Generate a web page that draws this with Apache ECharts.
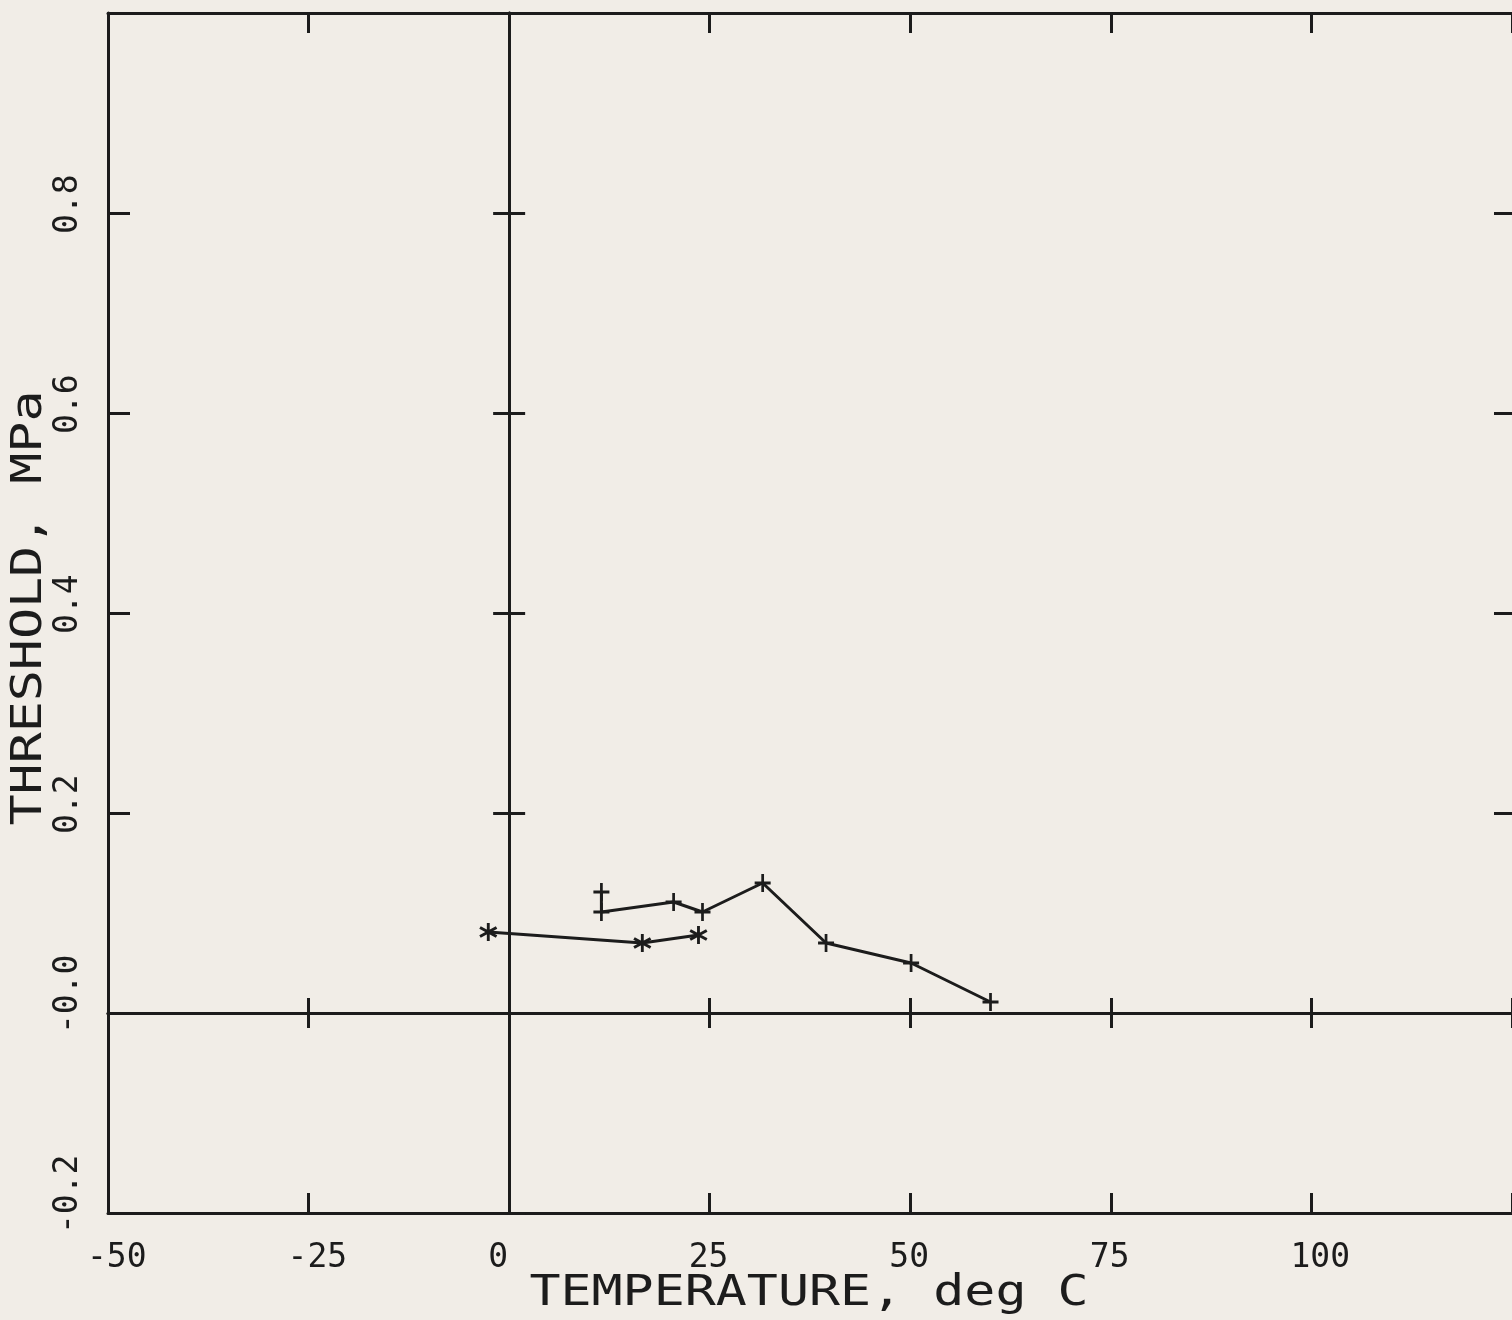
<!DOCTYPE html>
<html>
<head>
<meta charset="utf-8">
<script src="https://cdn.jsdelivr.net/npm/echarts@6/dist/echarts.min.js"></script>
<style>
html, body { margin: 0; padding: 0; background: #f1ede7; }
#chart { width: 1512px; height: 1320px; }
</style>
</head>
<body>
<div id="chart"></div>
<script>
// Temperature axis, deg C
const xMin = -50, xMax = 125, xStep = 25;
const xTickLabels = ['-50', '-25', '0', '25', '50', '75', '100', ''];

// Threshold axis, MPa
const yMin = -0.2, yMax = 1.0, yStep = 0.2;
const yTickLabels = ['-0.2', '-0.0', '0.2', '0.4', '0.6', '0.8', ''];

// Run plotted with asterisk markers
const starTemp = [-2.6, 16.6, 23.6];
const starThreshold = [0.081, 0.070, 0.078];

// Run plotted with plus markers
const plusTemp = [11.5, 11.5, 20.5, 24.1, 31.6, 39.5, 50.1, 60.0];
const plusThreshold = [0.121, 0.101, 0.111, 0.101, 0.130, 0.070, 0.050, 0.011];

const ink = '#1c1c1c';
const monoFont = '"DejaVu Sans Mono", "Liberation Mono", monospace';

// Filled glyph outlines for the plotter-style markers
const plusSymbol = 'path://M-1,-0.17L1,-0.17L1,0.17L-1,0.17Z M-0.17,-1L0.17,-1L0.17,1L-0.17,1Z';
const starSymbol = 'path://M-0.15,1L0.15,1L0.15,-1L-0.15,-1Z ' +
  'M0.791,0.63L0.941,0.37L-0.791,-0.63L-0.941,-0.37Z ' +
  'M-0.941,0.37L-0.791,0.63L0.941,-0.37L0.791,-0.63Z';

function tickText(labels, min, step) {
  return function (v) {
    const s = labels[Math.round((v - min) / step)];
    return s ? '{t|' + s + '}' : '';
  };
}

// Labels start a little before the tick they belong to
const labelRich = {
  t: { width: 42, align: 'left', fontFamily: monoFont, fontSize: 33, color: ink }
};

const lineStyle = { color: ink, width: 3 };

function xAxis(extra) {
  return Object.assign({
    type: 'value', min: xMin, max: xMax, interval: xStep,
    splitLine: { show: false }, axisLabel: { show: false }
  }, extra);
}
function yAxis(extra) {
  return Object.assign({
    type: 'value', min: yMin, max: yMax, interval: yStep,
    splitLine: { show: false }, axisLabel: { show: false }
  }, extra);
}

const chart = echarts.init(document.getElementById('chart'), null, { renderer: 'canvas' });

chart.setOption({
  backgroundColor: '#f1ede7',
  animation: false,
  grid: { left: 108, right: 0, top: 13, bottom: 107, outerBoundsMode: 'none', containLabel: false },
  xAxis: [
    // bottom frame edge with labels
    xAxis({
      position: 'bottom',
      axisLine: { show: true, onZero: false, lineStyle },
      axisTick: { show: true, inside: true, length: 20, lineStyle },
      axisLabel: {
        show: true, margin: 29, align: 'center', verticalAlign: 'top',
        formatter: tickText(xTickLabels, xMin, xStep), rich: labelRich,
        showMinLabel: true, showMaxLabel: true
      }
    }),
    // top frame edge
    xAxis({
      position: 'top',
      axisLine: { show: true, onZero: false, lineStyle },
      axisTick: { show: true, inside: true, length: 20, lineStyle }
    }),
    // zero line, ticks above
    xAxis({
      position: 'bottom',
      axisLine: { show: true, onZero: true, onZeroAxisIndex: 0, lineStyle },
      axisTick: { show: true, inside: true, length: 15, lineStyle }
    }),
    // zero line, ticks below
    xAxis({
      position: 'bottom',
      axisLine: { show: true, onZero: true, onZeroAxisIndex: 0, lineStyle },
      axisTick: { show: true, inside: false, length: 15, lineStyle }
    })
  ],
  yAxis: [
    // left frame edge with labels
    yAxis({
      position: 'left',
      axisLine: { show: true, onZero: false, lineStyle },
      axisTick: { show: true, inside: true, length: 22, lineStyle },
      axisLabel: {
        show: true, rotate: 90, margin: 40, align: 'center', verticalAlign: 'middle',
        formatter: tickText(yTickLabels, yMin, yStep), rich: labelRich,
        showMinLabel: true, showMaxLabel: true
      }
    }),
    // right frame edge, ticks only
    yAxis({
      position: 'right',
      axisLine: { show: false, onZero: false },
      axisTick: { show: true, inside: true, length: 18, lineStyle }
    }),
    // zero line, ticks to the right
    yAxis({
      position: 'left',
      axisLine: { show: true, onZero: true, onZeroAxisIndex: 0, lineStyle },
      axisTick: { show: true, inside: true, length: 16, lineStyle }
    }),
    // zero line, ticks to the left
    yAxis({
      position: 'left',
      axisLine: { show: true, onZero: true, onZeroAxisIndex: 0, lineStyle },
      axisTick: { show: true, inside: false, length: 16, lineStyle }
    })
  ],
  graphic: [
    {
      type: 'text', x: 809, y: 1294, scaleX: 1.2, z: 10,
      style: {
        text: 'TEMPERATURE, deg C', font: '43px ' + monoFont, fill: ink,
        textAlign: 'center', textVerticalAlign: 'middle'
      }
    },
    {
      type: 'text', x: 30, y: 608, rotation: Math.PI / 2, scaleX: 1.2, z: 10,
      style: {
        text: 'THRESHOLD, MPa', font: '43px ' + monoFont, fill: ink,
        textAlign: 'center', textVerticalAlign: 'middle'
      }
    }
  ],
  series: [
    {
      type: 'line', xAxisIndex: 0, yAxisIndex: 0,
      data: plusTemp.map((t, i) => [t, plusThreshold[i]]),
      symbol: plusSymbol, symbolSize: [16, 18], showAllSymbol: true,
      itemStyle: { color: ink }, lineStyle: { color: ink, width: 3 }, z: 5
    },
    {
      type: 'line', xAxisIndex: 0, yAxisIndex: 0,
      data: starTemp.map((t, i) => [t, starThreshold[i]]),
      symbol: starSymbol, symbolSize: [18, 18], showAllSymbol: true,
      itemStyle: { color: ink }, lineStyle: { color: ink, width: 3 }, z: 5
    }
  ]
});
</script>
</body>
</html>
